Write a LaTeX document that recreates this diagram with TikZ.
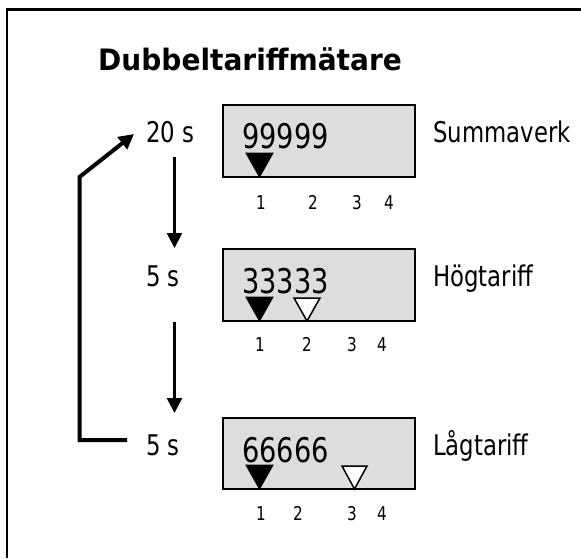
\documentclass[tikz,border=0pt]{standalone}
\usepackage{fontspec}
\setmainfont{DejaVu Sans}[FakeStretch=0.8]
\newfontfamily\titlefont{DejaVu Sans Bold}[FakeStretch=0.95]
\usetikzlibrary{arrows.meta}
\definecolor{panelgray}{HTML}{DDDDDD}
\tikzset{
  panel/.style={draw=black, line width=2pt, fill=panelgray},
  reading/.style={anchor=base west, inner sep=0pt, font=\fontsize{34}{36}\selectfont},
  timelabel/.style={anchor=base west, inner sep=0pt, font=\fontsize{28.5}{32}\selectfont},
  tick/.style={anchor=base, inner sep=0pt, font=\fontsize{19}{22}\selectfont},
  flow/.style={line width=2.5pt, -{Triangle[width=15pt,length=15pt]}},
  loopback/.style={line width=4pt, -{Triangle[width=15pt,length=15pt]}},
  active/.style={fill=black, draw=black, line width=1pt},
  marker/.style={fill=white, draw=black, line width=1.5pt},
}
\begin{document}
\begin{tikzpicture}[x=1pt, y=-1pt]
\useasboundingbox (0,0) rectangle (581,558);
% outer frame (only the top and left edges lie inside the page)
\draw[line width=2.5pt] (7,558) -- (7,9.5) -- (581,9.5);

% title
\node[anchor=base west, inner sep=0pt, font=\titlefont\fontsize{29.5}{32}\selectfont] (title) at (98,70) {Dubbeltariffmätare};

% display panels
\draw[panel] (223,105) rectangle (415,177);
\draw[panel] (223,249) rectangle (415,321);
\draw[panel] (223,418) rectangle (415,489);

\node[reading] (r1) at (242,148) {99999};
\node[reading] (r2) at (242,293) {33333};
\node[reading] (r3) at (242,462) {66666};

% register markers
\fill[active] (246,153) -- (273,153) -- (259.5,177) -- cycle;
\fill[active] (246,297) -- (273,297) -- (259.5,321) -- cycle;
\draw[marker] (294,298) -- (320,298) -- (307,321) -- cycle;
\fill[active] (246,465) -- (273,465) -- (259.5,489) -- cycle;
\draw[marker] (342,466) -- (367,466) -- (354.5,489) -- cycle;

% register numbers
\node[tick] (n11) at (261,209) {1};
\node[tick] (n12) at (313,209) {2};
\node[tick] (n13) at (357,209) {3};
\node[tick] (n14) at (389,209) {4};
\node[tick] (n21) at (260,351) {1};
\node[tick] (n22) at (307,351) {2};
\node[tick] (n23) at (352,351) {3};
\node[tick] (n24) at (382,351) {4};
\node[tick] (n31) at (261,520) {1};
\node[tick] (n32) at (298,520) {2};
\node[tick] (n33) at (352,520) {3};
\node[tick] (n34) at (382,520) {4};

% durations
\node[timelabel] (t1) at (146,142) {20 s};
\node[timelabel] (t2) at (146,286) {5 s};
\node[timelabel] (t3) at (146,455) {5 s};

% register names
\node[timelabel] (l1) at (433,142) {Summaverk};
\node[timelabel] (l2) at (433,286) {Högtariff};
\node[timelabel] (l3) at (433,455) {Lågtariff};

% sequence arrows
\coordinate (a1s) at (174.5,157);
\coordinate (a1e) at (174.5,248);
\coordinate (a2s) at (174.5,322);
\coordinate (a2e) at (174.5,413);
\draw[flow] (a1s) -- (a1e);
\draw[flow] (a2s) -- (a2e);

% return to the start
\coordinate (ls) at (127,440);
\coordinate (lc1) at (79.5,440);
\coordinate (lc2) at (79.5,177);
\coordinate (le) at (134,134);
\draw[loopback] (ls) -- (lc1) -- (lc2) -- (le);
\end{tikzpicture}
\end{document}
